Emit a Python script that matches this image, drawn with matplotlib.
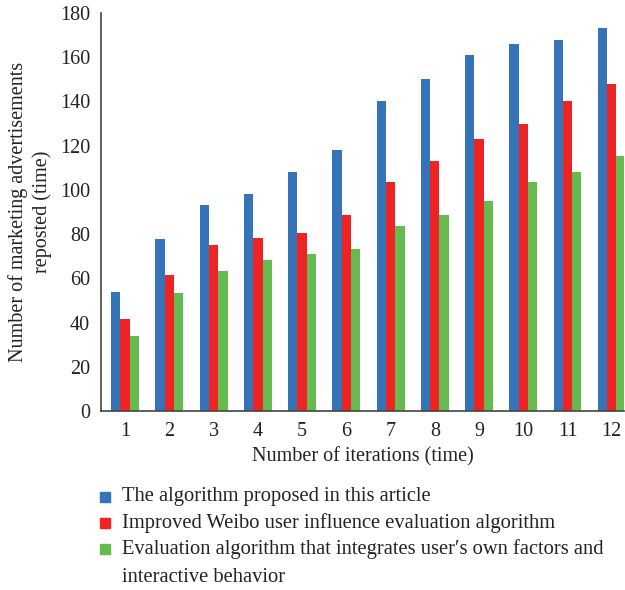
import numpy as np
import matplotlib.pyplot as plt
from matplotlib.patches import Rectangle

plt.rcParams['font.family'] = ['Liberation Serif', 'DejaVu Serif']

iterations = list(range(1, 13))
proposed = [54, 78, 93, 98, 108, 118, 140, 150, 161, 166, 168, 173]
improved_weibo = [41.5, 61.5, 75, 78.5, 80.5, 88.5, 103.5, 113, 123, 130, 140, 148]
integrated = [34, 53.5, 63.5, 68.5, 71, 73.5, 83.5, 88.5, 95, 103.5, 108, 115.5]
labels = ['The algorithm proposed in this article',
          'Improved Weibo user influence evaluation algorithm',
          'Evaluation algorithm that integrates user\u2032s own factors and\ninteractive behavior']
colors = ['#3674b9', '#ee2424', '#66bb50']

x = np.array(iterations)
w = 0.21
W, H = 625, 590

fig = plt.figure(figsize=(6.25, 5.9), dpi=100)
ax = fig.add_axes([0.162, 0.303, 0.836, 0.675])
for i, vals in enumerate([proposed, improved_weibo, integrated]):
    ax.bar(x + (i - 1) * w, vals, width=w, color=colors[i])

ax.set_xlim(0.46, 12.27)
ax.set_ylim(0, 180)
ax.set_xticks(x)
ax.set_yticks(range(0, 181, 20))
ax.tick_params(length=0, labelsize=14.5, colors='#222222', pad=8)
for s in ['top', 'right']:
    ax.spines[s].set_visible(False)
for s in ['left', 'bottom']:
    ax.spines[s].set_color('#444444')
    ax.spines[s].set_linewidth(1.2)

ax.set_xlabel('Number of iterations (time)', fontsize=14.5, color='#222222', labelpad=4)
ax.set_ylabel('Number of marketing advertisements\nreposted (time)', fontsize=14.5,
              color='#222222', labelpad=6, linespacing=1.25)

# legend below the plot, drawn by hand so the wrapped entry keeps its square on line one
rows = [497, 523, 549]
line_gap = 28
for c, lab, yc in zip(colors, labels, rows):
    fig.patches.append(Rectangle((100 / W, 1 - (yc + 5) / H), 10 / W, 10 / H,
                                 transform=fig.transFigure, color=c))
    for k, part in enumerate(lab.split('\n')):
        fig.text(122 / W, 1 - (yc + k * line_gap) / H, part, fontsize=14.8,
                 color='#222222', va='center')

fig.savefig('out.png', dpi=100)
